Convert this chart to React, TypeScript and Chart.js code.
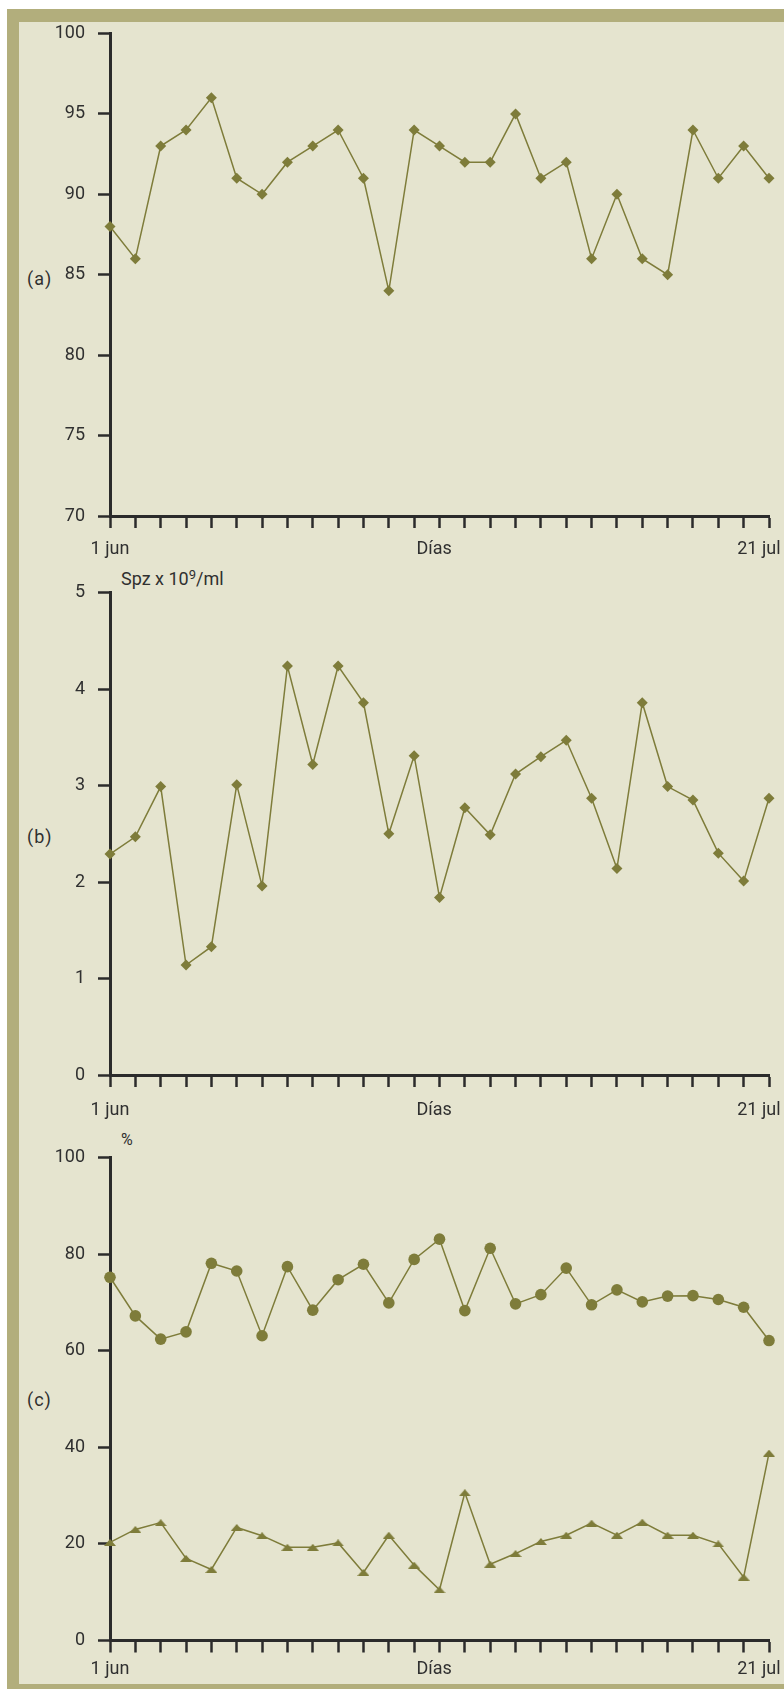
import React, { useEffect, useRef } from 'react';
import { Chart, registerables } from 'chart.js';

Chart.register(...registerables);

// ---- data ----
const dias = [0, 1, 2, 3, 4, 5, 6, 7, 8, 9, 10, 11, 12, 13, 14, 15, 16, 17, 18, 19, 20, 21, 22, 23, 24, 25, 26];

// (a) %
const serieA = [88, 86, 93, 94, 96, 91, 90, 92, 93, 94, 91, 84, 94, 93, 92, 92, 95, 91, 92, 86, 90, 86, 85, 94, 91, 93, 91];

// (b) Spz x 10^9/ml
const serieB = [2.29, 2.47, 2.99, 1.14, 1.33, 3.01, 1.96, 4.24, 3.22, 4.24, 3.86, 2.5, 3.31, 1.84, 2.77, 2.49, 3.12, 3.3, 3.47, 2.87, 2.14, 3.86, 2.99, 2.85, 2.3, 2.01, 2.87];

// (c) %
const serieCcirculos = [75.2, 67.2, 62.4, 63.9, 78.1, 76.5, 63.1, 77.4, 68.4, 74.7, 77.9, 69.9, 78.9, 83.1, 68.3, 81.2, 69.7, 71.6, 77.1, 69.5, 72.6, 70.1, 71.3, 71.4, 70.6, 69.0, 62.1];
const serieCtriangulos = [20.3, 23.0, 24.4, 17.0, 14.7, 23.4, 21.7, 19.3, 19.3, 20.2, 14.1, 21.8, 15.6, 10.5, 30.6, 15.8, 18.0, 20.5, 21.8, 24.3, 21.8, 24.5, 21.8, 21.8, 20.0, 13.1, 38.8];

const xLabels = ['1 jun', 'Días', '21 jul'];
const panelLabels = ['(a)', '(b)', '(c)'];
const unitB = ['Spz x 10', '9', '/ml'];
const unitC = '%';

// ---- styles ----
const OLIVE = '#7e7c3a';
const AXIS = '#2b2b2b';
const TEXT = '#303030';
const TAN = '#b2ae7c';
const PANEL = '#e5e4cf';
const FONT = 'Roboto';

function makeTriangle(color: string) {
  const c = document.createElement('canvas');
  c.width = 12;
  c.height = 7;
  const g = c.getContext('2d')!;
  g.fillStyle = color;
  g.beginPath();
  g.moveTo(6, 0);
  g.lineTo(12, 7);
  g.lineTo(0, 7);
  g.closePath();
  g.fill();
  return c;
}

type Cfg = {
  datasets: any[];
  yMin: number;
  yMax: number;
  yStep: number;
  padTop: number;
  xHeight: number;
  labelPad: number;
};

function buildChart(canvas: HTMLCanvasElement, cfg: Cfg) {
  const labelPos = [0, 12.79, 25.6];
  return new Chart(canvas, {
    type: 'line',
    data: { datasets: cfg.datasets },
    options: {
      animation: false,
      responsive: false,
      devicePixelRatio: 1,
      events: [],
      layout: { padding: { top: cfg.padTop, right: 15, left: 0, bottom: 0 } },
      plugins: { legend: { display: false }, tooltip: { enabled: false } },
      scales: {
        x: {
          type: 'linear',
          min: 0,
          max: 26,
          afterBuildTicks: (scale: any) => {
            const t: any[] = [];
            dias.forEach((d) => {
              if (d === 13) t.push({ value: labelPos[1] });
              if (d === 26) t.push({ value: labelPos[2] });
              t.push({ value: d });
            });
            scale.ticks = t;
          },
          afterFit: (scale: any) => {
            scale.height = cfg.xHeight;
          },
          ticks: {
            autoSkip: false,
            maxRotation: 0,
            padding: cfg.labelPad,
            color: TEXT,
            font: { family: FONT, size: 18 },
            callback: (v: any) => {
              const i = labelPos.indexOf(Number(v));
              return i >= 0 ? xLabels[i] : '';
            },
          },
          grid: {
            drawOnChartArea: false,
            tickLength: 12,
            tickColor: AXIS,
            tickWidth: (ctx: any) => (ctx.tick && Number.isInteger(ctx.tick.value) ? 2.5 : 0),
          },
          border: { display: true, color: AXIS, width: 3 },
        },
        y: {
          type: 'linear',
          min: cfg.yMin,
          max: cfg.yMax,
          afterFit: (scale: any) => {
            scale.width = 91;
          },
          ticks: {
            stepSize: cfg.yStep,
            padding: 13,
            color: TEXT,
            font: { family: FONT, size: 18 },
          },
          grid: {
            drawOnChartArea: false,
            tickLength: 12,
            tickColor: AXIS,
            tickWidth: 2.5,
          },
          border: { display: true, color: AXIS, width: 3 },
        },
      },
    },
  } as any);
}

function ds(values: number[], pointStyle: any, radius: number) {
  return {
    data: values.map((v, i) => ({ x: dias[i], y: v })),
    borderColor: OLIVE,
    borderWidth: 1.5,
    backgroundColor: OLIVE,
    pointBackgroundColor: OLIVE,
    pointBorderWidth: 0,
    pointRadius: radius,
    pointStyle,
    tension: 0,
    clip: false,
  };
}

const txt: React.CSSProperties = {
  position: 'absolute',
  fontFamily: FONT,
  fontSize: 18,
  lineHeight: '18px',
  color: TEXT,
  whiteSpace: 'nowrap',
};

export default function App() {
  const refA = useRef<HTMLCanvasElement>(null);
  const refB = useRef<HTMLCanvasElement>(null);
  const refC = useRef<HTMLCanvasElement>(null);

  useEffect(() => {
    const tri = makeTriangle(OLIVE);
    const charts = [
      buildChart(refA.current!, {
        datasets: [ds(serieA, 'rectRot', 5.5)],
        yMin: 70,
        yMax: 100,
        yStep: 5,
        padTop: 33.5,
        xHeight: 59,
        labelPad: 11,
      }),
      buildChart(refB.current!, {
        datasets: [ds(serieB, 'rectRot', 5.5)],
        yMin: 0,
        yMax: 5,
        yStep: 1,
        padTop: 37.7,
        xHeight: 60,
        labelPad: 13,
      }),
      buildChart(refC.current!, {
        datasets: [ds(serieCcirculos, 'circle', 5.8), ds(serieCtriangulos, tri, 6)],
        yMin: 0,
        yMax: 100,
        yStep: 20,
        padTop: 37.5,
        xHeight: 48.5,
        labelPad: 6,
      }),
    ];
    return () => charts.forEach((c) => c.destroy());
  }, []);

  const cv = (top: number, height: number): React.CSSProperties => ({
    position: 'absolute',
    left: 19,
    top,
    width: 765,
    height,
  });

  return (
    <div style={{ position: 'fixed', left: 0, top: 0, width: 784, height: 1689, background: '#ffffff', overflow: 'hidden' }}>
      <div style={{ position: 'absolute', left: 7, top: 9, width: 800, height: 1700, background: TAN }} />
      <div style={{ position: 'absolute', left: 19, top: 22, width: 800, height: 1662, background: PANEL }} />

      <div style={{ ...txt, left: 27, top: 270, letterSpacing: 1 }}>{panelLabels[0]}</div>
      <div style={{ ...txt, left: 27, top: 828, letterSpacing: 1 }}>{panelLabels[1]}</div>
      <div style={{ ...txt, left: 27, top: 1391, letterSpacing: 1 }}>{panelLabels[2]}</div>

      <div style={{ ...txt, left: 121, top: 570 }}>
        {unitB[0]}
        <sup style={{ fontSize: 13, verticalAlign: 6, lineHeight: 0 }}>{unitB[1]}</sup>
        {unitB[2]}
      </div>
      <div style={{ ...txt, left: 121, top: 1131, fontSize: 16 }}>{unitC}</div>

      <canvas ref={refA} width={765} height={575} style={cv(0, 575)} />
      <canvas ref={refB} width={765} height={580} style={cv(555, 580)} />
      <canvas ref={refC} width={765} height={569} style={cv(1120, 569)} />
    </div>
  );
}
